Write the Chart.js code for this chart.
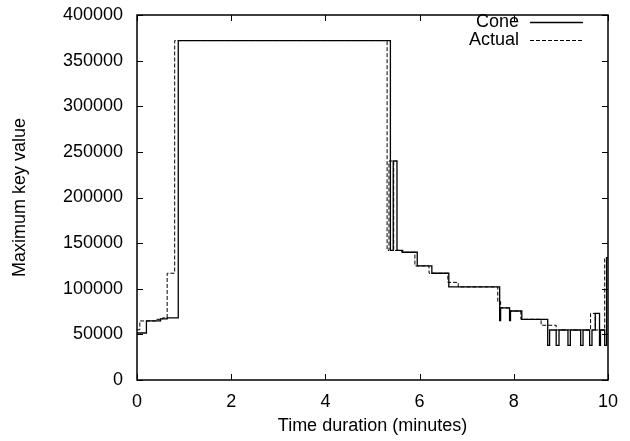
<!DOCTYPE html>
<html>
<head>
<meta charset="utf-8">
<script src="https://cdn.jsdelivr.net/npm/chart.js@4/dist/chart.umd.min.js"></script>
<style>
  html, body { margin: 0; padding: 0; background: #fff; }
  #wrap { width: 630px; height: 441px; }
</style>
</head>
<body>
<div id="wrap"><canvas id="chart" width="630" height="441"></canvas></div>
<script>
// Step points: value holds from x until the next x
const coneX = [0, 0.20, 0.50, 0.64, 0.876, 5.38, 5.44, 5.52, 5.64, 5.95, 6.26, 6.62, 7.70, 7.72, 7.91, 7.93, 8.17,
    8.72, 8.76, 8.90, 8.96, 9.15, 9.20, 9.42, 9.47, 9.61, 9.66, 9.73, 9.82, 9.84, 9.93, 9.97, 10];
const coneY = [51500, 64700, 67000, 68000, 372000, 142000, 240000, 142000, 140000, 125000, 117000, 102000, 65000, 79000, 65000, 75600, 66500,
    38000, 54800, 38000, 54800, 38000, 54800, 38000, 54800, 38000, 54800, 73000, 38000, 54800, 38000, 134000, 134000];

const actualX = [0, 0.06, 0.40, 0.54, 0.64, 0.80, 5.31, 5.35, 5.45, 5.62, 5.90, 6.20, 6.60, 6.82, 7.66, 7.72, 7.91, 8.15,
    8.58, 8.90, 9.63, 9.73, 9.93, 10];
const actualY = [55000, 64700, 66500, 68000, 117000, 372000, 142000, 240000, 142000, 140000, 125000, 117000, 107000, 102000, 86000, 79000, 75600, 66500,
    60000, 54800, 73000, 54800, 134000, 134000];

const xTicks = [0, 2, 4, 6, 8, 10];
const yTicks = [0, 50000, 100000, 150000, 200000, 250000, 300000, 350000, 400000];

const FONT = 'Liberation Sans, Arial, Helvetica, sans-serif';
const FSIZE = 18;

function toPoints(xs, ys) {
    return xs.map((x, i) => ({ x: x, y: ys[i] }));
}

// gnuplot-like frame, inward ticks and legend
const framePlugin = {
    id: 'frame',
    afterDraw(chart) {
        const ctx = chart.ctx;
        const a = chart.chartArea;
        const xs = chart.scales.x;
        const ys = chart.scales.y;
        const tl = 6;
        ctx.save();
        ctx.strokeStyle = '#000';
        ctx.lineWidth = 1.5;
        ctx.strokeRect(a.left, a.top, a.right - a.left, a.bottom - a.top);
        ctx.lineWidth = 1;
        ctx.beginPath();
        xTicks.forEach(v => {
            const px = Math.round(xs.getPixelForValue(v)) + 0.5;
            ctx.moveTo(px, a.bottom); ctx.lineTo(px, a.bottom - tl);
            ctx.moveTo(px, a.top); ctx.lineTo(px, a.top + tl);
        });
        yTicks.forEach(v => {
            const py = Math.round(ys.getPixelForValue(v)) + 0.5;
            ctx.moveTo(a.left, py); ctx.lineTo(a.left + tl, py);
            ctx.moveTo(a.right, py); ctx.lineTo(a.right - tl, py);
        });
        ctx.stroke();

        // legend
        const rows = [
            { label: 'Cone', dash: [], width: 1.3, y: a.top + 7 },
            { label: 'Actual', dash: [4, 2], width: 1, y: a.top + 25 }
        ];
        ctx.font = FSIZE + 'px ' + FONT;
        ctx.fillStyle = '#000';
        ctx.textAlign = 'right';
        ctx.textBaseline = 'middle';
        rows.forEach(r => {
            ctx.fillText(r.label, a.right - 89, r.y);
            ctx.setLineDash(r.dash);
            ctx.lineWidth = r.width;
            ctx.beginPath();
            ctx.moveTo(a.right - 78, r.y + 0.5);
            ctx.lineTo(a.right - 25, r.y + 0.5);
            ctx.stroke();
        });
        ctx.restore();
    }
};

new Chart(document.getElementById('chart'), {
    type: 'line',
    data: {
        datasets: [
            {
                label: 'Cone',
                data: toPoints(coneX, coneY),
                borderColor: '#000',
                borderWidth: 1.3,
                stepped: 'before',
                pointRadius: 0,
                fill: false
            },
            {
                label: 'Actual',
                data: toPoints(actualX, actualY),
                borderColor: '#000',
                borderWidth: 1,
                borderDash: [4, 2],
                stepped: 'before',
                pointRadius: 0,
                fill: false
            }
        ]
    },
    options: {
        responsive: false,
        animation: false,
        layout: { padding: { left: 0, right: 22, top: 15, bottom: 0 } },
        plugins: {
            legend: { display: false },
            tooltip: { enabled: false }
        },
        scales: {
            x: {
                type: 'linear',
                min: 0,
                max: 10,
                afterBuildTicks: s => { s.ticks = xTicks.map(v => ({ value: v })); },
                grid: { display: false, tickLength: 0 },
                border: { display: false },
                ticks: { color: '#000', padding: 11, maxRotation: 0, font: { family: FONT, size: FSIZE } },
                title: { display: true, text: 'Time duration (minutes)', color: '#000',
                    padding: { top: 4, bottom: 4 }, font: { family: FONT, size: FSIZE } },
                afterFit: s => { s.height = 61; s.paddingLeft = 0; s.paddingRight = 0; }
            },
            y: {
                type: 'linear',
                min: 0,
                max: 400000,
                afterBuildTicks: s => { s.ticks = yTicks.map(v => ({ value: v })); },
                grid: { display: false, tickLength: 0 },
                border: { display: false },
                ticks: { color: '#000', padding: 14, font: { family: FONT, size: FSIZE },
                    callback: v => String(v) },
                title: { display: true, text: 'Maximum key value', color: '#000',
                    padding: { top: 9, bottom: 4 }, font: { family: FONT, size: FSIZE } },
                afterFit: s => { s.width = 137; s.paddingTop = 0; s.paddingBottom = 0; }
            }
        }
    },
    plugins: [framePlugin]
});
</script>
</body>
</html>
